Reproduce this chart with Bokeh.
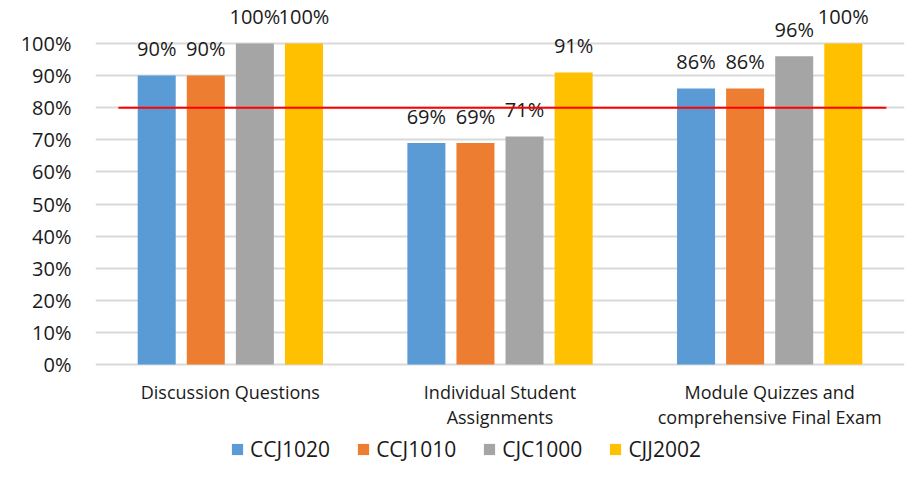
from bokeh.plotting import figure
from bokeh.models import (ColumnDataSource, Range1d, FixedTicker,
                          NumeralTickFormatter, Legend, LegendItem)
from bokeh.transform import dodge
from bokeh.core.properties import value
from bokeh.embed import file_html
from bokeh.resources import INLINE

# ---- data ----
categories = ["Discussion Questions", "Individual Student Assignments",
              "Module Quizzes and comprehensive Final Exam"]
label_line1 = ["Discussion Questions", "Individual Student", "Module Quizzes and"]
label_line2 = ["", "Assignments", "comprehensive Final Exam"]
series_names = ["CCJ1020", "CCJ1010", "CJC1000", "CJJ2002"]
ccj1020 = [0.90, 0.69, 0.86]
ccj1010 = [0.90, 0.69, 0.86]
cjc1000 = [1.00, 0.71, 0.96]
cjj2002 = [1.00, 0.91, 1.00]
target = [0.80, 0.80]
target_x = [0.085, 2.933]
y_ticks = [0, 0.1, 0.2, 0.3, 0.4, 0.5, 0.6, 0.7, 0.8, 0.9, 1.0]

series_values = [ccj1020, ccj1010, cjc1000, cjj2002]
colors = ["#5B9BD5", "#ED7D31", "#A5A5A5", "#FFC000"]
offsets = [-0.273, -0.091, 0.091, 0.273]

cat_pos = [i + 0.5 for i in range(len(categories))]

FONT = "Open Sans"
TXT = "#1a1a1a"

p = figure(x_range=Range1d(0, len(categories)),
           y_range=Range1d(-0.3115, 1.134),
           width=907, height=464, output_backend="svg", toolbar_location=None,
           min_border_left=95, min_border_right=3, min_border_top=0,
           min_border_bottom=0, x_axis_location=None)
p.outline_line_color = None
p.background_fill_color = "white"
p.border_fill_color = "white"

p.xgrid.grid_line_color = None
p.ygrid.grid_line_color = "#d9d9d9"
p.ygrid.grid_line_width = 2

p.yaxis.ticker = FixedTicker(ticks=y_ticks)
p.yaxis.formatter = NumeralTickFormatter(format="0%")
p.yaxis.major_label_standoff = 24
p.yaxis.major_label_text_font_size = "20px"
p.yaxis.major_label_text_font = FONT
p.yaxis.major_label_text_color = TXT
p.yaxis.axis_line_color = None
p.yaxis.major_tick_line_color = None
p.yaxis.minor_tick_line_color = None
p.yaxis.major_tick_out = 0
p.yaxis.major_tick_in = 0

# category labels (two lines) under the baseline
cat_src = ColumnDataSource(dict(x=cat_pos, y=[0] * len(categories),
                                l1=label_line1, l2=label_line2))
p.text(x="x", y="y", text="l1", source=cat_src, y_offset=27,
       text_align="center", text_baseline="alphabetic",
       text_font=value(FONT), text_font_size="18px", text_color=TXT)
p.text(x="x", y="y", text="l2", source=cat_src, y_offset=52,
       text_align="center", text_baseline="alphabetic",
       text_font=value(FONT), text_font_size="18px", text_color=TXT)

items = []
for name, vals, col, off in zip(series_names, series_values, colors, offsets):
    src = ColumnDataSource(dict(x=cat_pos, v=vals,
                                lbl=[f"{round(x*100)}%" for x in vals]))
    r = p.vbar(x=dodge("x", off), top="v", width=0.141,
               source=src, fill_color=col, line_color=None)
    p.text(x=dodge("x", off), y="v", text="lbl", source=src,
           text_align="center", text_baseline="alphabetic", y_offset=-27,
           text_font=value(FONT), text_font_size="20px", text_color=TXT)
    items.append(LegendItem(label=name, renderers=[r]))

p.line(x=target_x, y=target, line_color="#ff0000", line_width=2)

legend = Legend(items=items, orientation="horizontal", location=(135, 1),
                glyph_width=14, glyph_height=14, label_standoff=6, spacing=26,
                padding=0, margin=0, border_line_color=None,
                background_fill_alpha=0,
                label_text_font=FONT, label_text_font_size="21px",
                label_text_color=TXT)
p.add_layout(legend, "center")

open("out.html", "w").write(file_html(p, INLINE))
